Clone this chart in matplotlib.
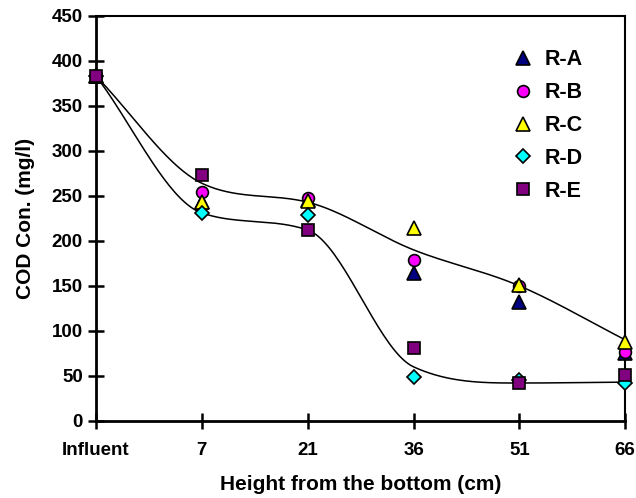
import numpy as np
import matplotlib
matplotlib.use('Agg')
import matplotlib.pyplot as plt

plt.rcParams['font.family'] = ['Liberation Sans', 'DejaVu Sans']

# categories on the x axis
heights = ['Influent', '7', '21', '36', '51', '66']

# COD concentration (mg/l) for each reactor
r_a = [383, 243, 245, 164, 132, 75]
r_b = [383, 254, 248, 179, 150, 77]
r_c = [383, 243, 244, 214, 151, 88]
r_d = [383, 231, 229, 49, 45, 42]
r_e = [383, 273, 212, 81, 42, 51]

# nodes of the two smoothed trend curves
upper_trend = [383, 264, 243, 190, 150, 90]
lower_trend = [383, 231, 212, 60, 42, 43]

series = [
    ('R-A', r_a, '^', '#000080', 9.5),
    ('R-B', r_b, 'o', '#FF00FF', 8.5),
    ('R-C', r_c, '^', '#FFFF00', 9.5),
    ('R-D', r_d, 'D', '#00FFFF', 7.5),
    ('R-E', r_e, 's', '#800080', 9),
]


def smooth(x, y, n=40):
    # catmull-rom tangents, limited (Fritsch-Carlson) so nothing overshoots
    x = np.asarray(x, float)
    y = np.asarray(y, float)
    h = np.diff(x)
    d = np.diff(y) / h
    m = np.zeros_like(y)
    m[0], m[-1] = d[0], d[-1]
    for i in range(1, len(x) - 1):
        if d[i - 1] * d[i] > 0:
            m[i] = (y[i + 1] - y[i - 1]) / (x[i + 1] - x[i - 1])
    for k in range(len(d)):
        if d[k] == 0:
            m[k] = m[k + 1] = 0
            continue
        a, b = m[k] / d[k], m[k + 1] / d[k]
        s = a * a + b * b
        if s > 9:
            tau = 3 / np.sqrt(s)
            m[k] = tau * a * d[k]
            m[k + 1] = tau * b * d[k]
    px, py = [], []
    for i in range(len(x) - 1):
        t = np.linspace(0, 1, n)
        h00 = 2 * t ** 3 - 3 * t ** 2 + 1
        h10 = t ** 3 - 2 * t ** 2 + t
        h01 = -2 * t ** 3 + 3 * t ** 2
        h11 = t ** 3 - t ** 2
        px.extend(x[i] + t * h[i])
        py.extend(h00 * y[i] + h10 * h[i] * m[i] + h01 * y[i + 1] + h11 * h[i] * m[i + 1])
    return px, py


fig = plt.figure(figsize=(6.36, 4.98), dpi=100)
ax = fig.add_axes([0.151, 0.155, 0.832, 0.813])

xpos = np.arange(len(heights))

for trend in (upper_trend, lower_trend):
    sx, sy = smooth(xpos, trend)
    ax.plot(sx, sy, color='black', lw=1.1, zorder=2)

for name, vals, mk, col, ms in series:
    ax.plot(xpos, vals, linestyle='none', marker=mk, markersize=ms,
            markerfacecolor=col, markeredgecolor='black', markeredgewidth=1.2,
            label=name, zorder=3, clip_on=False)

ax.set_xlim(0, 5)
ax.set_ylim(0, 450)
ax.set_xticks(xpos)
ax.set_xticklabels(heights)
ax.set_yticks(np.arange(0, 451, 50))

for side in ['left', 'bottom']:
    ax.spines[side].set_linewidth(2)
for side in ['top', 'right']:
    ax.spines[side].set_linewidth(1.5)

ax.tick_params(direction='inout', length=11, width=1.8, labelsize=13.5)
ax.tick_params(axis='x', pad=10)
ax.tick_params(axis='y', pad=4)
for lab in ax.get_xticklabels() + ax.get_yticklabels():
    lab.set_fontweight('bold')

ax.set_xlabel('Height from the bottom (cm)', fontsize=15, fontweight='bold', labelpad=11)
ax.set_ylabel('COD Con. (mg/l)', fontsize=15, fontweight='bold', labelpad=12)

ax.legend(loc='upper right', bbox_to_anchor=(0.956, 0.965), frameon=False,
          prop={'weight': 'bold', 'size': 15.5}, labelspacing=0.55,
          handletextpad=0.4, handlelength=1.2)

plt.savefig('out.png', dpi=100)
